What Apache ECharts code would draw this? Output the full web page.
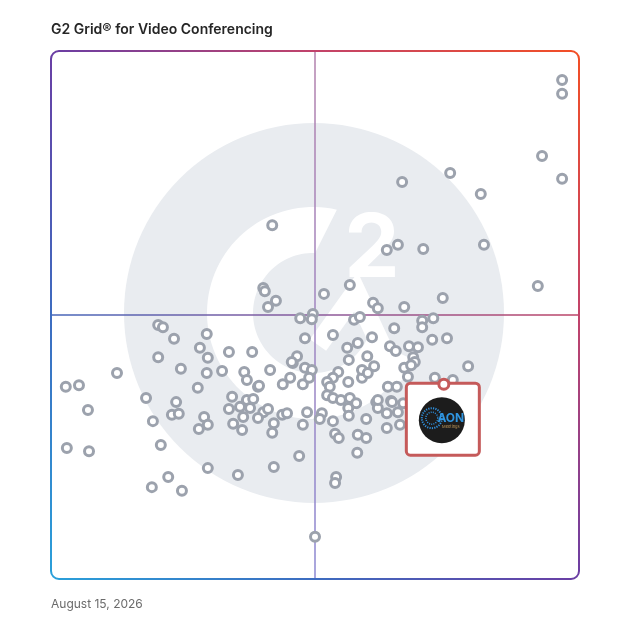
<!DOCTYPE html>
<html>
<head>
<meta charset="utf-8">
<script src="https://cdn.jsdelivr.net/npm/echarts@6/dist/echarts.min.js"></script>
<style>
  html, body { margin: 0; padding: 0; background: #ffffff; }
  #chart { width: 628px; height: 628px; }
</style>
</head>
<body>
<div id="chart"></div>
<script>
// ---- Data ----
const chartTitle = 'G2 Grid® for Video Conferencing';
const dateLabel = 'August 15, 2026';

// Satisfaction (x, 0-100) and Market Presence (y, 0-100) of each product
const satisfaction = [
  96.8, 96.8, 93.0, 96.8, 75.6, 66.5, 81.4, 41.9, 63.6, 65.7,
  70.5, 82.0, 92.2, 40.2, 40.5, 42.6, 41.1, 51.7, 56.6, 61.0,
  61.9, 66.9, 74.2, 47.2, 49.6, 49.4, 57.4, 58.5, 72.4, 70.3,
  70.3, 65.0, 20.3, 21.2, 23.3, 29.5, 28.2, 29.7, 20.3, 33.7,
  38.1, 24.6, 29.5, 32.4, 36.6, 37.1, 39.2, 12.5, 2.8, 5.3,
  7.0, 18.0, 23.7, 22.9, 24.2, 27.8, 19.3, 29.0, 29.7, 28.0,
  34.3, 33.7, 34.5, 35.8, 36.4, 36.2, 37.1, 37.7, 3.0, 7.2,
  20.8, 29.7, 22.2, 19.1, 24.8, 35.4, 48.1, 41.5, 45.8, 48.1,
  49.4, 39.4, 43.9, 45.3, 47.7, 48.9, 38.3, 40.2, 41.1, 39.2,
  42.2, 41.9, 43.8, 44.7, 47.7, 48.5, 47.0, 42.2, 46.6, 45.6,
  53.4, 60.8, 56.1, 58.1, 56.4, 59.9, 54.4, 53.4, 52.3, 52.8,
  56.3, 58.9, 58.9, 61.2, 60.0, 52.3, 53.4, 54.9, 56.6, 57.8,
  56.3, 61.6, 61.9, 53.4, 53.8, 54.5, 56.4, 59.7, 58.1, 59.7,
  58.0, 54.0, 53.8, 51.3, 50.9, 64.2, 65.3, 67.8, 69.5, 72.2,
  75.0, 66.9, 68.6, 68.9, 68.2, 67.6, 79.0, 72.7, 76.1, 63.8,
  65.5, 61.9, 64.4, 63.6, 66.7, 50.0, 65.7, 66.1, 63.6, 64.6
];
const marketPresence = [
  94.5, 91.9, 80.1, 75.8, 76.9, 75.2, 72.9, 67.0, 62.3, 63.3,
  62.5, 63.3, 55.5, 55.1, 54.5, 52.7, 51.5, 54.0, 55.7, 52.3,
  51.3, 51.5, 53.2, 49.4, 50.2, 49.2, 49.1, 49.6, 49.4, 48.9,
  47.7, 47.5, 48.1, 47.7, 45.5, 46.4, 43.8, 41.9, 42.0, 43.0,
  43.0, 39.8, 39.0, 39.4, 39.2, 37.7, 36.4, 39.0, 36.4, 36.7,
  32.0, 34.3, 33.5, 31.1, 31.3, 36.2, 29.9, 30.7, 29.2, 28.4,
  34.5, 32.2, 29.4, 32.6, 30.7, 28.2, 33.9, 32.4, 24.8, 24.2,
  25.4, 21.0, 19.3, 17.4, 16.7, 19.7, 45.6, 39.6, 40.9, 40.0,
  39.6, 36.6, 36.9, 38.1, 36.9, 38.1, 34.1, 31.6, 32.2, 30.5,
  29.5, 27.7, 31.1, 31.4, 29.2, 31.6, 23.3, 21.2, 42.2, 41.1,
  46.2, 45.8, 43.8, 44.7, 41.5, 42.2, 39.2, 38.1, 37.3, 36.4,
  37.3, 38.1, 39.6, 40.3, 39.0, 34.8, 34.3, 33.9, 34.3, 33.3,
  32.4, 33.5, 32.4, 29.9, 27.5, 26.7, 30.9, 30.3, 27.3, 26.7,
  23.9, 19.3, 18.2, 31.4, 30.3, 44.1, 43.2, 44.1, 43.9, 45.3,
  45.6, 40.0, 42.0, 41.1, 40.5, 38.3, 40.3, 38.1, 37.7, 36.4,
  36.4, 33.9, 33.7, 28.6, 33.3, 8.0, 31.6, 29.2, 31.4, 33.5
];

// Highlighted product (AON Meetings)
const highlightName = 'AON Meetings';
const highlightSatisfaction = [74.4];
const highlightPresence = [36.9];

// ---- Chart ----
const chart = echarts.init(document.getElementById('chart'), null, { renderer: 'canvas' });
const points = satisfaction.map((x, i) => [x, marketPresence[i]]);
const highlight = highlightSatisfaction.map((x, i) => [x, highlightPresence[i]]);

chart.setOption({
  animation: false,
  backgroundColor: '#ffffff',
  title: {
    text: chartTitle,
    left: 51,
    top: 23,
    padding: 0,
    textStyle: { fontFamily: 'Inter', fontSize: 14, fontWeight: 600, color: '#262626' }
  },
  grid: { left: 51, top: 51, right: 49, bottom: 49 },
  xAxis: { type: 'value', min: 0, max: 100, show: false },
  yAxis: { type: 'value', min: 0, max: 100, show: false },
  series: [
    {
      type: 'scatter',
      z: 10,
      silent: true,
      data: points,
      symbol: 'circle',
      symbolSize: 9,
      itemStyle: { color: '#ffffff', borderColor: '#9ca2ad', borderWidth: 3, opacity: 1 },
      emphasis: { disabled: true }
    },
    {
      type: 'scatter',
      name: highlightName,
      z: 30,
      silent: true,
      data: highlight,
      symbol: 'circle',
      symbolSize: 10,
      itemStyle: { color: '#ffffff', borderColor: '#c55a5a', borderWidth: 3, opacity: 1 },
      emphasis: { disabled: true }
    }
  ]
});

// ---- Decorations positioned from the chart's own scales ----
const tl = chart.convertToPixel({ gridIndex: 0 }, [0, 100]);
const br = chart.convertToPixel({ gridIndex: 0 }, [100, 0]);
const ctr = chart.convertToPixel({ gridIndex: 0 }, [50, 50]);
const hp = chart.convertToPixel({ gridIndex: 0 }, highlight[0]);
const L = tl[0], T = tl[1], R = br[0], B = br[1];
const cx = ctr[0], cy = ctr[1];
const LG = (x1, y1, x2, y2, stops) => new echarts.graphic.LinearGradient(x1, y1, x2, y2, stops, true);

// watermark geometry (G2 logo): open ring sampled as a polygon
const ox = cx - 2, oy = cy - 2;
const pt = (r, deg) => [ox + r * Math.cos(deg * Math.PI / 180), oy - r * Math.sin(deg * Math.PI / 180)];
const ringPts = [];
for (let a = 77; a <= 335; a += 3) ringPts.push(pt(106, a));
ringPts.push(pt(106, 335));
for (let a = 335; a >= 88; a -= 3) ringPts.push(pt(60, a));
ringPts.push(pt(60, 88));

const graphic = [
  // watermark disk
  { type: 'circle', z: 1, silent: true, shape: { cx: cx - 1, cy: cy - 2, r: 190 }, style: { fill: '#e9ecf0' } },
  { type: 'polygon', z: 2, silent: true, shape: { points: ringPts }, style: { fill: '#ffffff' } },
  { type: 'polyline', z: 2, silent: true,
    shape: { points: [[cx + 3, cy + 30], [cx + 41, cy - 23], [cx + 83, cy + 67]] },
    style: { stroke: '#ffffff', lineWidth: 20, fill: null, lineJoin: 'miter' } },
  { type: 'text', z: 2, silent: true, x: cx + 57, y: cy - 64,
    style: { text: '2', fill: '#ffffff', font: 'bold 88px Inter', align: 'center', verticalAlign: 'middle' } },

  // crosshair
  { type: 'line', z: 4, silent: true, shape: { x1: cx, y1: T, x2: cx, y2: B },
    style: { lineWidth: 1.5, stroke: LG(cx, T, cx, B, [{ offset: 0, color: '#b381ad' }, { offset: 1, color: '#8c88d2' }]) } },
  { type: 'line', z: 4, silent: true, shape: { x1: L, y1: cy, x2: R, y2: cy },
    style: { lineWidth: 1.5, stroke: LG(L, cy, R, cy, [{ offset: 0, color: '#4666b9' }, { offset: 0.5, color: '#8a5a9c' }, { offset: 1, color: '#bc4467' }]) } },

  // gradient frame (diagonal gradient: orange top-right, purple TL/BR, blue bottom-left)
  { type: 'rect', z: 5, silent: true,
    shape: { x: L, y: T, width: R - L, height: B - T, r: 8 },
    style: { fill: null, lineWidth: 2,
      stroke: LG(R, T, L, B, [{ offset: 0, color: '#f34f25' }, { offset: 0.25, color: '#c2436a' }, { offset: 0.5, color: '#6a3ea4' }, { offset: 0.75, color: '#3d6cc0' }, { offset: 1, color: '#2aa0da' }]) } },

  // callout box for the highlighted product
  { type: 'rect', z: 20, silent: true,
    shape: { x: hp[0] - 37.5, y: hp[1] - 1, width: 73, height: 72, r: 4 },
    style: { fill: '#ffffff', stroke: '#c55a5a', lineWidth: 3 } },
  { type: 'circle', z: 21, silent: true, shape: { cx: hp[0] - 2, cy: hp[1] + 36, r: 23 }, style: { fill: '#1c1c1c' } },
  { type: 'circle', z: 22, silent: true, shape: { cx: hp[0] - 12, cy: hp[1] + 34, r: 10 },
    style: { fill: null, stroke: '#2f8fdc', lineWidth: 2, lineDash: [1.2, 1.2] } },
  { type: 'circle', z: 22, silent: true, shape: { cx: hp[0] - 12, cy: hp[1] + 34, r: 6 },
    style: { fill: null, stroke: '#2f8fdc', lineWidth: 1.5, lineDash: [1, 1.2] } },
  { type: 'text', z: 23, silent: true, x: hp[0] + 7, y: hp[1] + 34,
    style: { text: 'AON', fill: '#2f95e0', font: 'bold 12px Inter', align: 'center', verticalAlign: 'middle' } },
  { type: 'text', z: 23, silent: true, x: hp[0] + 7, y: hp[1] + 43,
    style: { text: 'Meetings', fill: '#c49a5a', font: '4px Inter', align: 'center', verticalAlign: 'middle' } },

  // date
  { type: 'text', silent: true, x: 51, y: 604,
    style: { text: dateLabel, fill: '#6b6b6b', font: '12px Inter', align: 'left', verticalAlign: 'middle' } }
];

chart.setOption({ graphic: graphic });
</script>
</body>
</html>
